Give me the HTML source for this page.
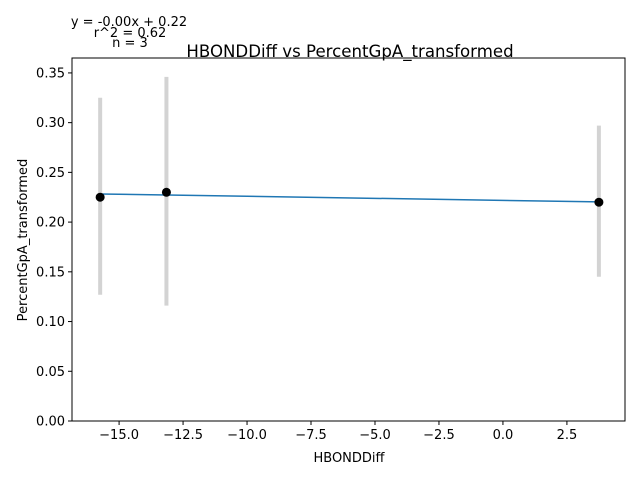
<!DOCTYPE html>
<html><head><meta charset="utf-8"><style>body{margin:0;background:#fff}svg{display:block;font-family:"DejaVu Sans","Liberation Sans",sans-serif}</style></head>
<body>
<svg id="chart" width="640" height="480">
<rect width="640" height="480" fill="#fff"/>
<text x="129" y="26" font-size="13" text-anchor="middle">y = -0.00x + 0.22</text>
<text x="130" y="37" font-size="13" text-anchor="middle">r^2 = 0.62</text>
<text x="130" y="47" font-size="13" text-anchor="middle">n = 3</text>
<text x="350" y="57" font-size="16.6" text-anchor="middle">HBONDDiff vs PercentGpA_transformed</text>
<text x="349" y="462" font-size="13" text-anchor="middle">HBONDDiff</text>
<text transform="translate(27,240) rotate(-90)" font-size="13" text-anchor="middle">PercentGpA_transformed</text>
<g id="ticks"></g>
<g id="marks"></g>
<rect x="72" y="58" width="553" height="363" fill="none" stroke="#000" stroke-width="1"/>
</svg>
<script>
const xs=[-15.74,-13.15,3.75];
const ys=[0.225,0.230,0.220];
const errLo=[0.127,0.116,0.145];
const errHi=[0.325,0.346,0.297];
const fitY=[0.2283,0.2203];
const xTicks=[-15,-12.5,-10,-7.5,-5,-2.5,0,2.5];
const yTicks=[0,0.05,0.1,0.15,0.2,0.25,0.3,0.35];
const X0=72,X1=625,Y0=421,Y1=58,xmin=-16.84,xmax=4.77,ymin=0,ymax=0.365;
const sx=v=>X0+(v-xmin)/(xmax-xmin)*(X1-X0);
const sy=v=>Y0-(v-ymin)/(ymax-ymin)*(Y0-Y1);
const NS="http://www.w3.org/2000/svg";
function mk(t,a,p){const e=document.createElementNS(NS,t);for(const k in a)e.setAttribute(k,a[k]);p.appendChild(e);return e;}
const tg=document.getElementById('ticks'),mg=document.getElementById('marks');
xTicks.forEach(v=>{const x=sx(v);
const l=mk('line',{x1:x,x2:x,y1:Y0,y2:Y0+4,stroke:'#000'},tg);


const t=mk('text',{x:x,y:Y0+18,'font-size':13,'text-anchor':'middle'},tg);t.textContent=v.toFixed(1).replace('-','\u2212');

});
yTicks.forEach(v=>{const y=sy(v);
const l=mk('line',{x1:X0-4,x2:X0,y1:y,y2:y,stroke:'#000'},tg);


const t=mk('text',{x:X0-7,y:y+4.5,'font-size':13,'text-anchor':'end'},tg);t.textContent=v.toFixed(2);

});
xs.forEach((v,i)=>{const e=mk('line',{x1:sx(v),x2:sx(v),y1:sy(errLo[i]),y2:sy(errHi[i]),stroke:'#d3d3d3','stroke-width':4},mg);

});
const fl=mk('line',{x1:sx(Math.min(...xs)),x2:sx(Math.max(...xs)),y1:sy(fitY[0]),y2:sy(fitY[1]),stroke:'#1f77b4','stroke-width':1.5},mg);


xs.forEach((v,i)=>{const c=mk('circle',{cx:sx(v),cy:sy(ys[i]),r:4.5,fill:'#000'},mg);

});
</script>
</body></html>
